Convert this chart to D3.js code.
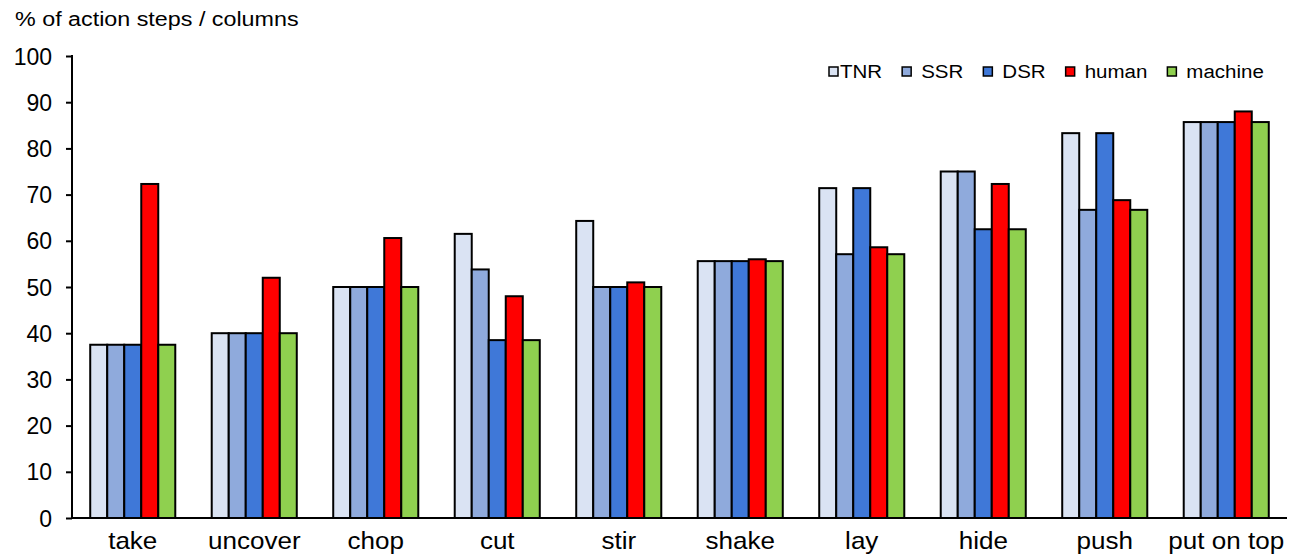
<!DOCTYPE html>
<html>
<head>
<meta charset="utf-8">
<script src="https://cdn.jsdelivr.net/npm/d3@7/dist/d3.min.js"></script>
<style>
  html, body { margin: 0; padding: 0; background: #fff; }
  text { font-family: "Liberation Sans", Arial, Helvetica, sans-serif; fill: #000; }
</style>
</head>
<body>
<svg id="chart" width="1298" height="556"></svg>
<script>
// ---- data ----
const categories = ["take", "uncover", "chop", "cut", "stir", "shake", "lay", "hide", "push", "put on top"];
const seriesNames = ["TNR", "SSR", "DSR", "human", "machine"];
const TNR     = [37.5, 40, 50, 61.5, 64.3, 55.6, 71.4, 75, 83.3, 85.7];
const SSR     = [37.5, 40, 50, 53.8, 50, 55.6, 57.1, 75, 66.7, 85.7];
const DSR     = [37.5, 40, 50, 38.5, 50, 55.6, 71.4, 62.5, 83.3, 85.7];
const human   = [72.3, 52, 60.6, 48, 51, 56, 58.6, 72.3, 68.8, 88];
const machine = [37.5, 40, 50, 38.5, 50, 55.6, 57.1, 62.5, 66.7, 85.7];
const yTicks = [0, 10, 20, 30, 40, 50, 60, 70, 80, 90, 100];
const yTitle = "% of action steps / columns";

// ---- styling ----
const colors = ["#dae3f3", "#8faadc", "#3f78d8", "#ff0000", "#8fd04f"];
const seriesValues = [TNR, SSR, DSR, human, machine];
const stretch = 1.085; // reference text is slightly wide

const svg = d3.select("#chart");
const margin = { left: 72, right: 11, top: 56, bottom: 38 };
const W = 1298, H = 556;

const x = d3.scaleBand().domain(categories).range([margin.left, W - margin.right]).paddingInner(0.3).paddingOuter(0.15);
const xs = d3.scaleBand().domain(seriesNames).range([0, x.bandwidth()]);
const y = d3.scaleLinear().domain([0, 100]).range([H - margin.bottom, margin.top]);

// bars
const groups = svg.append("g").selectAll("g")
  .data(categories)
  .join("g")
  .attr("transform", d => `translate(${x(d)},0)`);

groups.selectAll("rect")
  .data((c, i) => seriesNames.map((s, k) => ({ s, k, v: seriesValues[k][i] })))
  .join("rect")
  .attr("x", d => xs(d.s))
  .attr("y", d => y(d.v))
  .attr("width", xs.bandwidth())
  .attr("height", d => y(0) - y(d.v))
  .attr("fill", d => colors[d.k])
  .attr("stroke", "#000")
  .attr("stroke-width", 2);

// y axis
const yAxis = d3.axisLeft(y).tickValues(yTicks).tickSize(6).tickPadding(14).tickFormat(d3.format("d"));
const ga = svg.append("g").attr("transform", `translate(${margin.left},0)`).call(yAxis);
ga.select(".domain").remove();
ga.selectAll(".tick line").attr("stroke", "#000").attr("stroke-width", 2);
ga.selectAll(".tick text").style("font-size", "23px").attr("dy", "0.35em");
svg.append("line")
  .attr("x1", margin.left).attr("x2", margin.left)
  .attr("y1", y(100) - 1).attr("y2", y(0))
  .attr("stroke", "#000").attr("stroke-width", 2);

// x axis
const xAxis = d3.axisBottom(x).tickSize(0).tickPadding(14);
const gx = svg.append("g").attr("transform", `translate(0,${y(0)})`).call(xAxis);
gx.select(".domain").remove();
gx.selectAll(".tick text").style("font-size", "24px").attr("dy", "0.71em")
  .attr("transform", `scale(${stretch},1)`);
svg.append("line")
  .attr("x1", margin.left).attr("x2", W - margin.right)
  .attr("y1", y(0)).attr("y2", y(0))
  .attr("stroke", "#000").attr("stroke-width", 2);

// title
svg.append("text").attr("transform", "translate(15,26) scale(1.11,1)")
  .style("font-size", "21px").text(yTitle);

// legend
const leg = svg.append("g");
const legScale = 1.08;
let lx = 829;
seriesNames.forEach((name, k) => {
  const g = leg.append("g");
  g.append("rect").attr("x", lx).attr("y", 67).attr("width", 9).attr("height", 9)
    .attr("fill", colors[k]).attr("stroke", "#000").attr("stroke-width", 1.5);
  const tx = lx + (k === 0 ? 11 : 19);
  const t = g.append("text").attr("transform", `translate(${tx},78) scale(${legScale},1)`)
    .style("font-size", "19px").text(name);
  lx = tx + t.node().getComputedTextLength() * legScale + 20;
});
</script>
</body>
</html>
